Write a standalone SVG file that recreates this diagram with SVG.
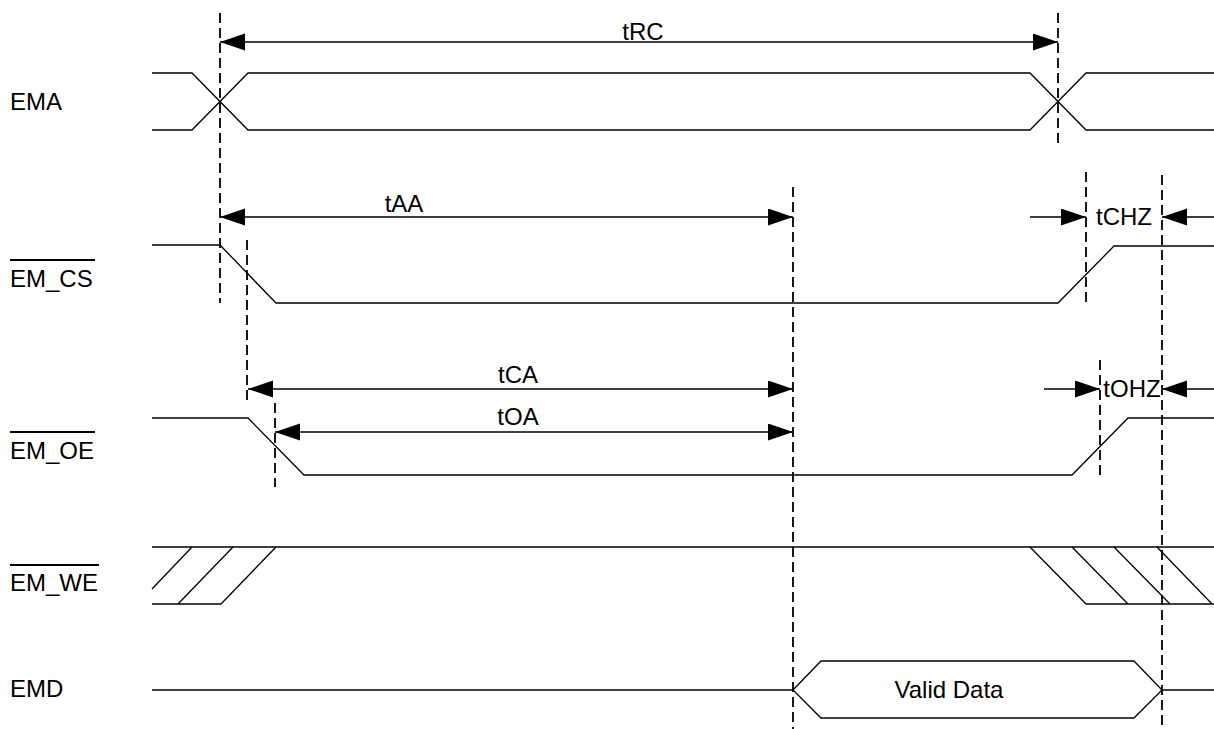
<svg xmlns="http://www.w3.org/2000/svg" width="1214" height="729" viewBox="0 0 1214 729">
<style>
.sig{fill:none;stroke:#000;stroke-width:1.3}
.dash{fill:none;stroke:#000;stroke-width:1.8;stroke-dasharray:10 5}
.dim{fill:none;stroke:#000;stroke-width:1.3}
.lbl{font-family:"Liberation Sans",Arial,sans-serif;font-size:24px;fill:#000}
.ov{stroke:#000;stroke-width:2}
</style>
<defs>
<marker id="ah" markerUnits="userSpaceOnUse" markerWidth="26" markerHeight="18" refX="25" refY="8.5" orient="auto-start-reverse">
<path d="M0,0 L25,8.5 L0,17 Z" fill="#000"/>
</marker>
</defs>
<rect width="1214" height="729" fill="#fff"/>

<g id="EMA">
<text class="lbl" x="10" y="110">EMA</text>
<path class="sig" d="M152,73 H192 L248,130 H1030 L1086,73 H1214"/>
<path class="sig" d="M152,130 H192 L248,73 H1030 L1086,130 H1214"/>
</g>

<g id="EM_CS">
<text class="lbl" x="10" y="287">EM_CS</text>
<line class="ov" x1="10" y1="260" x2="95" y2="260"/>
<path class="sig" d="M152,245 H220 L276,303 H1058 L1114,246 H1214"/>
</g>

<g id="EM_OE">
<text class="lbl" x="10" y="459">EM_OE</text>
<line class="ov" x1="10" y1="432" x2="95" y2="432"/>
<path class="sig" d="M152,418 H248 L304,475 H1072 L1128,418 H1214"/>
</g>

<g id="EM_WE">
<text class="lbl" x="10" y="591">EM_WE</text>
<line class="ov" x1="10" y1="565" x2="99" y2="565"/>
<path class="sig" d="M152,547 H1214"/>
<path class="sig" d="M152,604 H221 M152,589 L192,547 M178,604 L233,547 M221,604 L276,547"/>
<path class="sig" d="M1086,604 H1214 M1030,547 L1086,604 M1072,547 L1128,604 M1114,547 L1170,604 M1157,547 L1212,604"/>
</g>

<g id="EMD">
<text class="lbl" x="10" y="697">EMD</text>
<path class="sig" d="M152,690 H793 M1162,690 H1214"/>
<path class="sig" d="M793,690 L821,661 H1134 L1162,690 L1134,718 H821 Z"/>
<text class="lbl" x="949" y="698" text-anchor="middle">Valid Data</text>
</g>

<g id="connectors">
<line class="dash" x1="220" y1="13" x2="220" y2="303"/>
<line class="dash" x1="1058" y1="13" x2="1058" y2="148"/>
<line class="dash" x1="793" y1="187" x2="793" y2="729"/>
<line class="dash" x1="247" y1="240" x2="247" y2="401"/>
<line class="dash" x1="275" y1="403" x2="275" y2="487"/>
<line class="dash" x1="1086" y1="172" x2="1086" y2="303"/>
<line class="dash" x1="1162" y1="175" x2="1162" y2="729"/>
<line class="dash" x1="1100" y1="360" x2="1100" y2="476"/>

<line class="dim" x1="220" y1="42" x2="1058" y2="42" marker-start="url(#ah)" marker-end="url(#ah)"/>
<text class="lbl" x="643" y="40" text-anchor="middle">tRC</text>

<line class="dim" x1="220" y1="217" x2="793" y2="217" marker-start="url(#ah)" marker-end="url(#ah)"/>
<text class="lbl" x="404" y="212" text-anchor="middle">tAA</text>

<line class="dim" x1="248" y1="389" x2="793" y2="389" marker-start="url(#ah)" marker-end="url(#ah)"/>
<text class="lbl" x="518" y="383" text-anchor="middle">tCA</text>

<line class="dim" x1="275" y1="432" x2="793" y2="432" marker-start="url(#ah)" marker-end="url(#ah)"/>
<text class="lbl" x="518" y="425" text-anchor="middle">tOA</text>

<line class="dim" x1="1030" y1="217" x2="1086" y2="217" marker-end="url(#ah)"/>
<line class="dim" x1="1214" y1="217" x2="1162" y2="217" marker-end="url(#ah)"/>
<text class="lbl" x="1124" y="225" text-anchor="middle">tCHZ</text>

<line class="dim" x1="1044" y1="389" x2="1100" y2="389" marker-end="url(#ah)"/>
<line class="dim" x1="1214" y1="389" x2="1162" y2="389" marker-end="url(#ah)"/>
<text class="lbl" x="1132" y="397" text-anchor="middle">tOHZ</text>
</g>
</svg>
